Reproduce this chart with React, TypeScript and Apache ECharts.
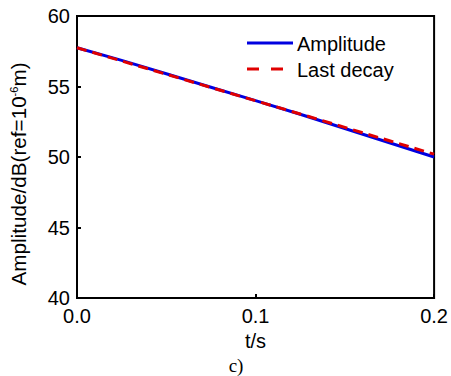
import React, { useEffect, useRef } from "react";
import * as echarts from "echarts";

const seriesNames = ["Amplitude", "Last decay"];
const timeS = [0, 0.025, 0.05, 0.075, 0.1, 0.125, 0.15, 0.175, 0.2];
const amplitudeDb = [57.75, 56.85, 55.9, 54.95, 54.0, 53.03, 52.02, 51.01, 50.0];
const lastDecayDb = [57.75, 56.81, 55.87, 54.93, 53.99, 53.05, 52.1, 51.15, 50.2];
const xTicks = [0, 0.1, 0.2];
const yTicks = [40, 45, 50, 55, 60];

const FONT = "Liberation Sans, Arial, sans-serif";

export default function App() {
  const ref = useRef<HTMLDivElement>(null);
  useEffect(() => {
    if (!ref.current) return;
    document.body.style.margin = "0";
    document.body.style.overflow = "hidden";
    const chart = echarts.init(ref.current, null, { renderer: "svg" });
    chart.setOption({
      animation: false,
      backgroundColor: "#ffffff",
      grid: {
        left: 76,
        top: 16,
        width: 361,
        height: 282,
        show: true,
        borderColor: "#000",
        borderWidth: 2,
        backgroundColor: "transparent",
      },
      xAxis: {
        type: "value",
        min: xTicks[0],
        max: xTicks[xTicks.length - 1],
        interval: 0.1,
        name: "t/s",
        nameLocation: "middle",
        nameGap: 31,
        nameTextStyle: { fontFamily: FONT, fontSize: 20, color: "#000" },
        axisLine: { show: true, lineStyle: { color: "#000", width: 2 } },
        axisTick: { show: true, inside: true, length: 4, lineStyle: { color: "#000", width: 2 } },
        axisLabel: {
          fontFamily: FONT,
          fontSize: 20,
          color: "#000",
          margin: 8,
          formatter: (v: number) => v.toFixed(1),
        },
        splitLine: { show: false },
      },
      yAxis: {
        type: "value",
        min: yTicks[0],
        max: yTicks[yTicks.length - 1],
        interval: 5,
        name: "Amplitude/dB(ref=10{sup|-6}m)",
        nameLocation: "middle",
        nameGap: 48,
        nameTextStyle: {
          fontFamily: FONT,
          fontSize: 20.7,
          color: "#000",
          padding: [0, 34, 0, 0],
          rich: {
            sup: { fontFamily: FONT, fontSize: 11, color: "#000", verticalAlign: "top", lineHeight: 11, padding: [0, 0, 10, 0] },
          },
        },
        axisLine: { show: true, lineStyle: { color: "#000", width: 2 } },
        axisTick: { show: true, inside: true, length: 4, lineStyle: { color: "#000", width: 2 } },
        axisLabel: { fontFamily: FONT, fontSize: 20, color: "#000", margin: 7 },
        splitLine: { show: false },
      },
      series: [
        {
          name: seriesNames[0],
          type: "line",
          data: timeS.map((t, i) => [t, amplitudeDb[i]]),
          showSymbol: false,
          symbol: "none",
          lineStyle: { color: "#0000e0", width: 3 },
          z: 2,
        },
        {
          name: seriesNames[1],
          type: "line",
          data: timeS.map((t, i) => [t, lastDecayDb[i]]),
          showSymbol: false,
          symbol: "none",
          lineStyle: { color: "#e00000", width: 3, type: [10, 6] },
          z: 3,
        },
      ],
      graphic: [
        { type: "line", shape: { x1: 247, y1: 43, x2: 293, y2: 43 }, style: { stroke: "#0000e0", lineWidth: 3 } },
        { type: "text", x: 297, y: 44, style: { text: seriesNames[0], fontFamily: FONT, fontSize: 20, fill: "#000", verticalAlign: "middle" } },
        { type: "line", shape: { x1: 247, y1: 69, x2: 283, y2: 69 }, style: { stroke: "#e00000", lineWidth: 3, lineDash: [12, 12] } },
        { type: "text", x: 297, y: 70, style: { text: seriesNames[1], fontFamily: FONT, fontSize: 20, fill: "#000", verticalAlign: "middle" } },
        { type: "text", x: 236, y: 365, style: { text: "c)", fontFamily: "Liberation Serif, Times New Roman, serif", fontSize: 19, fill: "#000", align: "center", verticalAlign: "middle" } },
      ],
    });
    return () => chart.dispose();
  }, []);
  return (
    <div
      ref={ref}
      style={{ position: "absolute", left: 0, top: 0, width: 451, height: 376, background: "#fff" }}
    />
  );
}
